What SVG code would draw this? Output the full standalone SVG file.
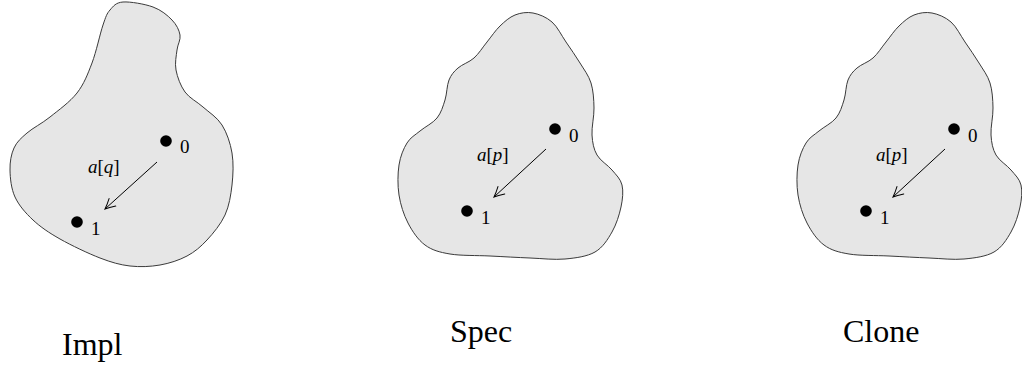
<svg xmlns="http://www.w3.org/2000/svg" width="1022" height="368" viewBox="0 0 1022 368">
<style>
.blob{fill:#e6e6e6;stroke:#3a3a3a;stroke-width:1}
.dot{fill:#000}
.num{font-family:"Liberation Serif","DejaVu Serif",serif;font-size:19px;fill:#000}
.lbl{font-family:"Liberation Serif","DejaVu Serif",serif;font-size:19px;fill:#000}
.it{font-style:italic}
.title{font-family:"Liberation Serif","DejaVu Serif",serif;font-size:32px;fill:#000}
.edge{fill:none;stroke:#000;stroke-width:1}
</style>
<defs>
<marker id="arr" markerUnits="userSpaceOnUse" markerWidth="16" markerHeight="16" refX="0" refY="0" viewBox="-12 -8 16 16" orient="auto" overflow="visible">
<path d="M-10,-5 Q-4,-1.5 0,0 Q-4,1.5 -10,5" fill="none" stroke="#000" stroke-width="1" stroke-linecap="round"/>
</marker>
<path id="blobSpec" d="M533,13 C539.17,14.17 546.5,17.17 552,22 C557.5,26.83 561.33,35.17 566,42 C570.67,48.83 575.83,56.17 580,63 C584.17,69.83 588.67,75.5 591,83 C593.33,90.5 593.83,99.33 594,108 C594.17,116.67 591.5,127.17 592,135 C592.5,142.83 593.670,149.17 597,155 C600.33,160.83 607.83,165 612,170 C616.17,175 620.5,178.83 622,185 C623.5,191.17 622.67,199.17 621,207 C619.33,214.83 616.33,224.5 612,232 C607.67,239.5 602.83,247.5 595,252 C587.17,256.5 575.83,258 565,259 C554.17,260 542.5,258.5 530,258 C517.5,257.5 503.33,256.67 490,256 C476.67,255.33 460.83,255.83 450,254 C439.17,252.17 432,250.17 425,245 C418,239.83 412.33,231.33 408,223 C403.67,214.67 400.5,204.67 399,195 C397.5,185.33 397.67,173.67 399,165 C400.33,156.33 403.5,148.67 407,143 C410.5,137.33 415,135.17 420,131 C425,126.83 432.83,123.17 437,118 C441.17,112.83 443,106.33 445,100 C447,93.67 446.83,85.33 449,80 C451.17,74.67 453.83,71.67 458,68 C462.17,64.33 469.17,62.33 474,58 C478.83,53.67 482.67,47.33 487,42 C491.33,36.67 495.33,30.5 500,26 C504.67,21.5 509.5,17.17 515,15 C520.5,12.83 526.83,11.83 533,13 Z"/>
</defs>

<g id="impl">
<path class="blob" d="M123,2 C130.17,1.5 144.83,4 153,7 C161.17,10 167.5,15.33 172,20 C176.5,24.67 179.17,30 180,35 C180.83,40 177.67,44.17 177,50 C176.33,55.83 174.67,63 176,70 C177.33,77 180.5,85.83 185,92 C189.5,98.17 196.83,101.5 203,107 C209.17,112.5 217.17,117.33 222,125 C226.83,132.67 230.33,143 232,153 C233.67,163 233.17,174.67 232,185 C230.83,195.33 229.17,205.83 225,215 C220.83,224.17 213.33,233.17 207,240 C200.67,246.83 194.83,251.83 187,256 C179.17,260.17 169.5,263.33 160,265 C150.5,266.67 140,267.17 130,266 C120,264.83 111.67,262.5 100,258 C88.33,253.5 71.17,245.33 60,239 C48.83,232.67 40.5,227 33,220 C25.5,213 18.83,205.33 15,197 C11.17,188.67 10.17,178.17 10,170 C9.83,161.83 11.17,154.17 14,148 C16.83,141.83 21,138.17 27,133 C33,127.83 41.67,123.67 50,117 C58.33,110.33 70,102 77,93 C84,84 87.67,74.33 92,63 C96.33,51.67 100,33.83 103,25 C106,16.17 106.67,13.83 110,10 C113.33,6.17 115.83,2.5 123,2 Z"/>
<text class="title" x="62" y="355">Impl</text>
</g>
<g id="spec">
<use href="#blobSpec" class="blob"/>
<text class="title" x="450" y="342">Spec</text>
</g>
<g id="clone">
<use href="#blobSpec" class="blob" transform="translate(399,0)"/>
<text class="title" x="843" y="342">Clone</text>
</g>

<g id="impl-s0"><circle class="dot" cx="166" cy="141" r="5.8"/><text class="num" x="180" y="153">0</text></g>
<g id="impl-s1"><circle class="dot" cx="77" cy="222" r="5.8"/><text class="num" x="91" y="235">1</text></g>
<g id="spec-s0"><circle class="dot" cx="555" cy="129" r="5.8"/><text class="num" x="569" y="142">0</text></g>
<g id="spec-s1"><circle class="dot" cx="467" cy="211" r="5.8"/><text class="num" x="481" y="224">1</text></g>
<g id="clone-s0"><circle class="dot" cx="954" cy="129" r="5.8"/><text class="num" x="968" y="142">0</text></g>
<g id="clone-s1"><circle class="dot" cx="866" cy="211" r="5.8"/><text class="num" x="880" y="224">1</text></g>

<g id="connectors">
<line class="edge" x1="157" y1="162" x2="105" y2="209" marker-end="url(#arr)"/>
<text class="lbl" x="88" y="173"><tspan class="it">a</tspan>[<tspan class="it">q</tspan>]</text>
<line class="edge" x1="546" y1="149" x2="494" y2="197" marker-end="url(#arr)"/>
<text class="lbl" x="477" y="161"><tspan class="it">a</tspan>[<tspan class="it">p</tspan>]</text>
<line class="edge" x1="945" y1="149" x2="893" y2="197" marker-end="url(#arr)"/>
<text class="lbl" x="876" y="161"><tspan class="it">a</tspan>[<tspan class="it">p</tspan>]</text>
</g>
</svg>
